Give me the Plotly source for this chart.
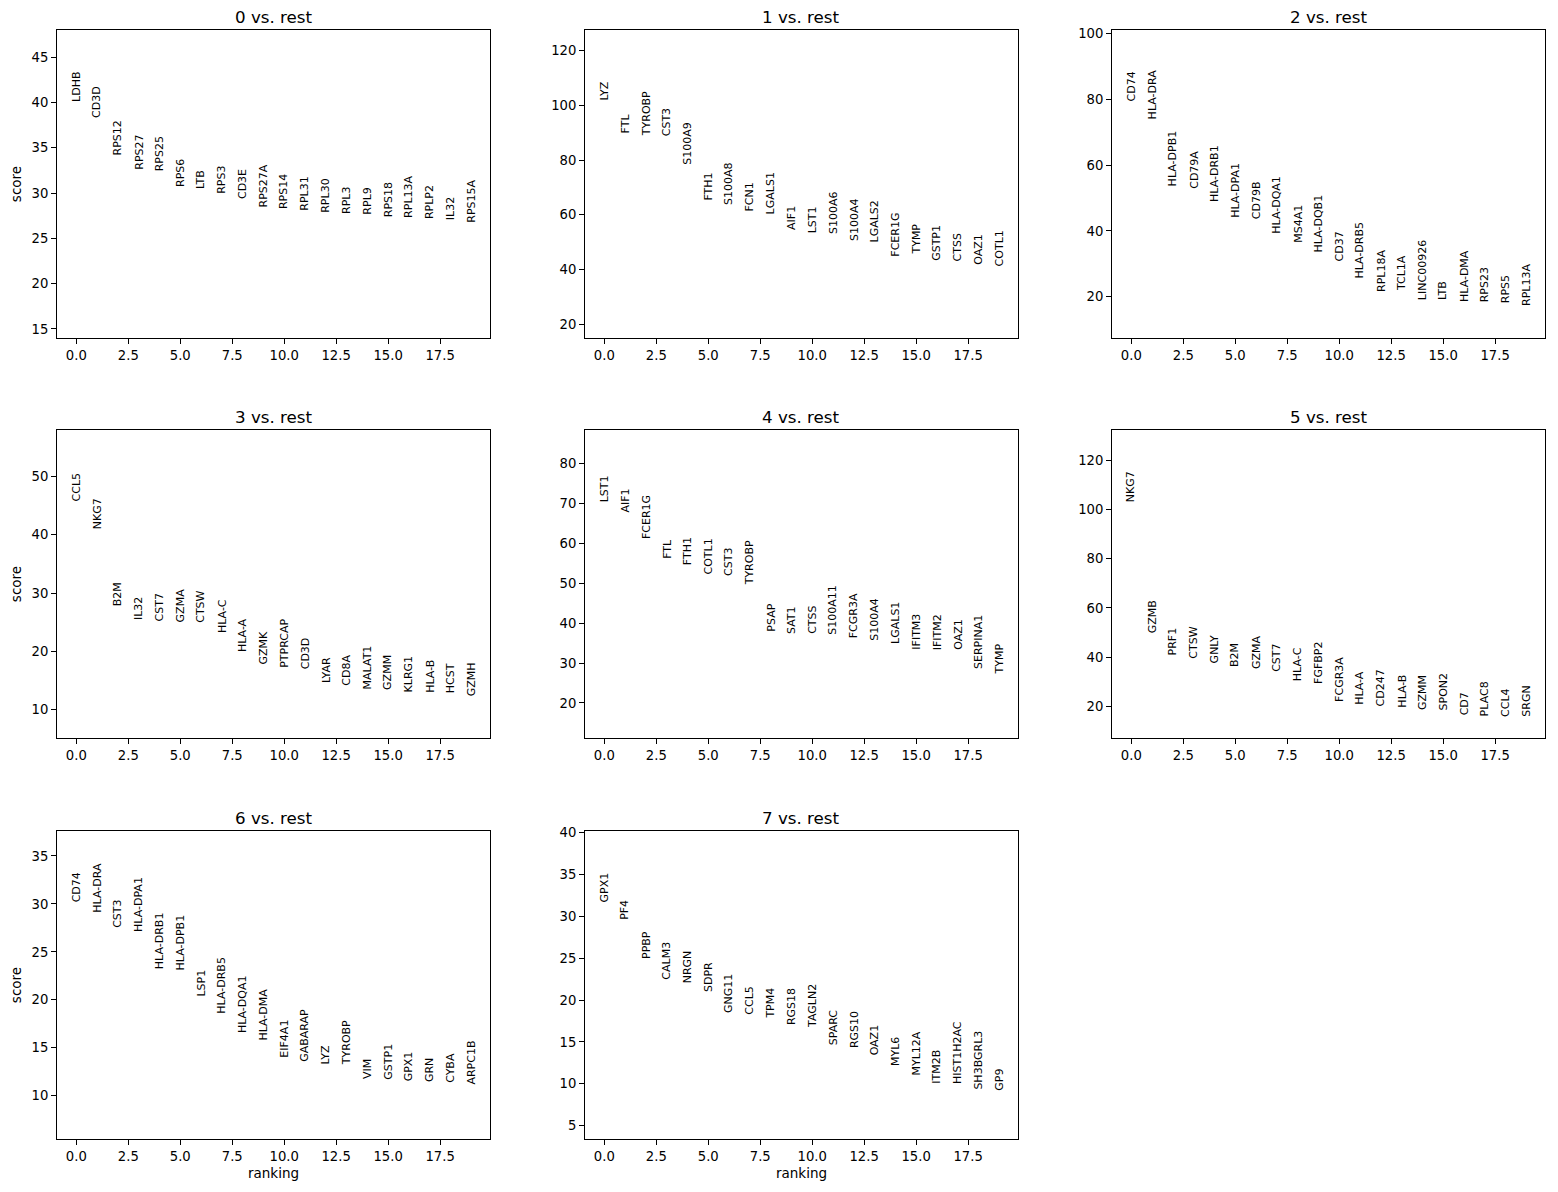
import plotly.graph_objects as go

# ---------------- data ----------------
group_names = ["0", "1", "2", "3", "4", "5", "6", "7"]

genes_0 = ["LDHB", "CD3D", "RPS12", "RPS27", "RPS25", "RPS6", "LTB", "RPS3", "CD3E", "RPS27A",
           "RPS14", "RPL31", "RPL30", "RPL3", "RPL9", "RPS18", "RPL13A", "RPLP2", "IL32", "RPS15A"]
scores_0 = [40.1, 38.3, 34.2, 32.6, 32.4, 30.7, 30.4, 29.9, 29.3, 28.4,
            28.2, 28.05, 27.8, 27.7, 27.6, 27.3, 27.25, 27.1, 27.0, 26.7]

genes_1 = ["LYZ", "FTL", "TYROBP", "CST3", "S100A9", "FTH1", "S100A8", "FCN1", "LGALS1", "AIF1",
           "LST1", "S100A6", "S100A4", "LGALS2", "FCER1G", "TYMP", "GSTP1", "CTSS", "OAZ1", "COTL1"]
scores_1 = [101.7, 89.8, 88.9, 88.6, 78.3, 65.3, 63.4, 61.3, 60.0, 54.6,
            53.1, 53.1, 50.5, 49.7, 44.8, 45.3, 43.1, 42.8, 41.7, 41.2]

genes_2 = ["CD74", "HLA-DRA", "HLA-DPB1", "CD79A", "HLA-DRB1", "HLA-DPA1", "CD79B", "HLA-DQA1", "MS4A1", "HLA-DQB1",
           "CD37", "HLA-DRB5", "RPL18A", "TCL1A", "LINC00926", "LTB", "HLA-DMA", "RPS23", "RPS5", "RPL13A"]
scores_2 = [79.4, 73.9, 53.5, 52.7, 48.8, 43.9, 43.6, 39.1, 36.3, 33.6,
            30.8, 25.7, 21.4, 21.6, 19.1, 18.9, 18.4, 18.4, 17.9, 17.3]

genes_3 = ["CCL5", "NKG7", "B2M", "IL32", "CST7", "GZMA", "CTSW", "HLA-C", "HLA-A", "GZMK",
           "PTPRCAP", "CD3D", "LYAR", "CD8A", "MALAT1", "GZMM", "KLRG1", "HLA-B", "HCST", "GZMH"]
scores_3 = [45.7, 40.9, 27.7, 25.4, 25.2, 25.0, 24.9, 23.1, 19.8, 17.8,
            17.1, 16.9, 14.5, 14.1, 13.5, 13.3, 13.0, 12.9, 12.7, 12.3]

genes_4 = ["LST1", "AIF1", "FCER1G", "FTL", "FTH1", "COTL1", "CST3", "TYROBP", "PSAP", "SAT1",
           "CTSS", "S100A11", "FCGR3A", "S100A4", "LGALS1", "IFITM3", "IFITM2", "OAZ1", "SERPINA1", "TYMP"]
scores_4 = [70.3, 67.8, 61.1, 56.1, 54.7, 52.3, 51.9, 49.6, 37.8, 37.4,
            37.4, 37.1, 36.3, 35.6, 34.9, 33.4, 33.2, 33.4, 28.4, 27.1]

genes_5 = ["NKG7", "GZMB", "PRF1", "CTSW", "GNLY", "B2M", "GZMA", "CST7", "HLA-C", "FGFBP2",
           "FCGR3A", "HLA-A", "CD247", "HLA-B", "GZMM", "SPON2", "CD7", "PLAC8", "CCL4", "SRGN"]
scores_5 = [103.0, 49.5, 40.6, 39.2, 37.6, 36.0, 35.1, 33.9, 30.0, 29.2,
            21.6, 20.5, 20.0, 19.4, 18.3, 18.3, 16.4, 15.9, 15.6, 15.6]

genes_6 = ["CD74", "HLA-DRA", "CST3", "HLA-DPA1", "HLA-DRB1", "HLA-DPB1", "LSP1", "HLA-DRB5", "HLA-DQA1", "HLA-DMA",
           "EIF4A1", "GABARAP", "LYZ", "TYROBP", "VIM", "GSTP1", "GPX1", "GRN", "CYBA", "ARPC1B"]
scores_6 = [30.2, 29.1, 27.5, 27.1, 23.2, 23.1, 20.3, 18.6, 16.5, 15.8,
            14.0, 13.6, 13.3, 13.2, 11.8, 11.7, 11.5, 11.4, 11.3, 11.2]

genes_7 = ["GPX1", "PF4", "PPBP", "CALM3", "NRGN", "SDPR", "GNG11", "CCL5", "TPM4", "RGS18",
           "TAGLN2", "SPARC", "RGS10", "OAZ1", "MYL6", "MYL12A", "ITM2B", "HIST1H2AC", "SH3BGRL3", "GP9"]
scores_7 = [31.7, 29.6, 24.9, 22.4, 22.0, 21.0, 18.4, 18.3, 17.8, 17.0,
            16.7, 14.6, 14.3, 13.4, 12.1, 11.0, 10.0, 10.0, 9.3, 9.2]

all_genes = [genes_0, genes_1, genes_2, genes_3, genes_4, genes_5, genes_6, genes_7]
all_scores = [scores_0, scores_1, scores_2, scores_3, scores_4, scores_5, scores_6, scores_7]

# ---------------- layout / styling ----------------
# The page body has an 8px margin, so the figure is drawn 8px in from the
# window's edge; positions below are window pixels, converted accordingly.
OFF = 8
W, H = 1558 - 2 * OFF, 1192 - 2 * OFF
col_px = [(57, 490), (585, 1018), (1112, 1545)]
row_px = [(30, 338), (430, 738), (831, 1139)]
y_ranges = [(14.0, 48.0), (14.9, 127.6), (7.5, 101.0), (5.1, 58.0),
            (11.2, 88.5), (7.0, 132.5), (5.5, 37.6), (3.4, 40.2)]
y_dticks = [5, 20, 20, 10, 10, 20, 5, 5]
FONT = "DejaVu Sans"


def fx(px):
    return (px - OFF) / W


def fy(py):
    return 1 - (py - OFF) / H


fig = go.Figure()
layout = dict(
    width=W, height=H,
    margin=dict(l=0, r=0, t=0, b=0, autoexpand=False),
    paper_bgcolor="white", plot_bgcolor="white",
    showlegend=False,
    font=dict(family=FONT, color="black", size=13),
)
annotations = []

for i, (gname, genes, scores) in enumerate(zip(group_names, all_genes, all_scores)):
    r, c = divmod(i, 3)
    k = "" if i == 0 else str(i + 1)
    xa, ya = "x" + k, "y" + k
    x0, x1 = col_px[c]
    yt, yb = row_px[r]
    ranks = list(range(len(genes)))

    fig.add_trace(go.Scatter(
        x=ranks, y=scores, text=genes, mode="markers",
        marker=dict(size=1, opacity=0), hoverinfo="text+y",
        xaxis=xa, yaxis=ya))

    axis_common = dict(
        showline=True, mirror=True, linecolor="black", linewidth=1,
        ticks="outside", ticklen=5, tickwidth=1, tickcolor="black",
        showgrid=False, zeroline=False, automargin=False,
        tickfont=dict(family=FONT, size=13.2, color="black"),
    )
    layout["xaxis" + k] = dict(
        axis_common,
        domain=[fx(x0), fx(x1)], anchor=ya,
        range=[-0.93, 19.9], tick0=0, dtick=2.5, tickformat=".1f",
        title=dict(text="ranking" if r == 2 else "", font=dict(family=FONT, size=13.5), standoff=5),
    )
    layout["yaxis" + k] = dict(
        axis_common,
        domain=[fy(yb), fy(yt)], anchor=xa,
        range=list(y_ranges[i]), tick0=0, dtick=y_dticks[i],
        title=dict(text="score" if c == 0 else "", font=dict(family=FONT, size=13.5), standoff=8),
    )

    for rk, g, s in zip(ranks, genes, scores):
        annotations.append(dict(
            x=rk, y=s, xref=xa, yref=ya, text=g, showarrow=False,
            textangle=-90, xanchor="center", yanchor="bottom",
            borderpad=0, borderwidth=0,
            font=dict(family=FONT, size=11, color="black")))

    annotations.append(dict(
        x=(fx(x0) + fx(x1)) / 2, y=fy(yt), xref="paper", yref="paper",
        text=f"{gname} vs. rest", showarrow=False,
        xanchor="center", yanchor="bottom", yshift=3,
        borderpad=0, borderwidth=0,
        font=dict(family=FONT, size=16.7, color="black")))

layout["annotations"] = annotations
fig.update_layout(**layout)
fig.write_html("out.html")
